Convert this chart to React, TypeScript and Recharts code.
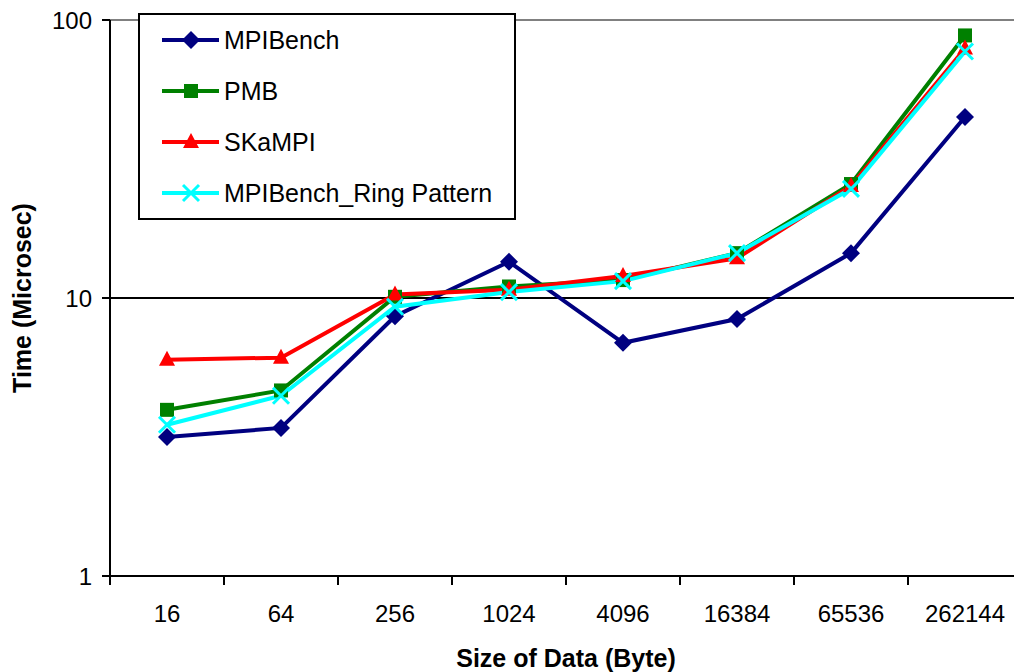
import { LineChart, Line, XAxis, YAxis, CartesianGrid, ReferenceLine, Label } from 'recharts';

const sizes = ['16', '64', '256', '1024', '4096', '16384', '65536', '262144'];
const mpiBench = [3.16, 3.41, 8.6, 13.5, 6.9, 8.4, 14.5, 44.8];
const pmb = [3.96, 4.65, 10.1, 11.0, 11.6, 14.5, 25.7, 88];
const skampi = [6.0, 6.1, 10.3, 10.7, 12.0, 13.9, 25.3, 79];
const ringPattern = [3.5, 4.45, 9.3, 10.5, 11.5, 14.5, 24.7, 77];
const yTicks = [1, 10, 100];

const series = [
    { key: 'mpiBench', name: 'MPIBench', color: '#000080', shape: 'diamond' },
    { key: 'pmb', name: 'PMB', color: '#008000', shape: 'square' },
    { key: 'skampi', name: 'SKaMPI', color: '#FF0000', shape: 'triangle' },
    { key: 'ring', name: 'MPIBench_Ring Pattern', color: '#00FFFF', shape: 'cross' },
];

const data = sizes.map((size, i) => ({
    size,
    mpiBench: mpiBench[i],
    pmb: pmb[i],
    skampi: skampi[i],
    ring: ringPattern[i],
}));

const FONT = 'Arial, "Liberation Sans", sans-serif';
const CHART_W = 1030;
const CHART_H = 672;
const MARGIN = { top: 20, right: 8, left: 0, bottom: 0 };
const Y_AXIS_W = 110;
const PLOT_W = CHART_W - MARGIN.left - MARGIN.right - Y_AXIS_W;
const BAND = PLOT_W / sizes.length;

function Marker({ cx, cy, shape, color }: { cx: number; cy: number; shape: string; color: string }) {
    if (cx == null || cy == null) return null;
    if (shape === 'diamond') {
        return <path d={`M${cx},${cy - 9} L${cx + 9},${cy} L${cx},${cy + 9} L${cx - 9},${cy} Z`} fill={color} />;
    }
    if (shape === 'square') {
        return <rect x={cx - 7} y={cy - 7} width={14} height={14} fill={color} />;
    }
    if (shape === 'triangle') {
        return <path d={`M${cx},${cy - 9} L${cx + 8},${cy + 6} L${cx - 8},${cy + 6} Z`} fill={color} />;
    }
    return (
        <g stroke={color} strokeWidth={3}>
            <line x1={cx - 8} y1={cy - 8} x2={cx + 8} y2={cy + 8} />
            <line x1={cx - 8} y1={cy + 8} x2={cx + 8} y2={cy - 8} />
        </g>
    );
}

function XTick(props: any) {
    const { x, y, payload, index } = props;
    const left = x - BAND / 2;
    return (
        <g>
            <line x1={left} y1={y} x2={left} y2={y + 9} stroke="#000" strokeWidth={2} />
            {index === sizes.length - 1 && (
                <line x1={x + BAND / 2} y1={y} x2={x + BAND / 2} y2={y + 9} stroke="#000" strokeWidth={2} />
            )}
            <text x={x} y={y + 46} textAnchor="middle" fontSize={24} fontFamily={FONT} fill="#000">
                {payload.value}
            </text>
        </g>
    );
}

function LegendBox() {
    return (
        <svg width={378} height={207} style={{ position: 'absolute', left: 138, top: 13 }}>
            <rect x={1} y={1} width={376} height={205} fill="#fff" stroke="#000" strokeWidth={2} />
            {series.map((s, i) => {
                const cy = 27 + i * 51;
                return (
                    <g key={s.key}>
                        <line x1={24} y1={cy} x2={81} y2={cy} stroke={s.color} strokeWidth={4} />
                        <Marker cx={53} cy={cy} shape={s.shape} color={s.color} />
                        <text x={86} y={cy + 9} fontSize={25} fontFamily={FONT} fill="#000">
                            {s.name}
                        </text>
                    </g>
                );
            })}
        </svg>
    );
}

export default function App() {
    return (
        <div style={{ position: 'absolute', left: 0, top: 0, width: 1014, height: 672, overflow: 'hidden', background: '#fff' }}>
            <LineChart width={CHART_W} height={CHART_H} data={data} margin={MARGIN}>
                <CartesianGrid vertical={false} stroke="#000" strokeWidth={2} />
                <ReferenceLine y={100} stroke="#808080" strokeWidth={2} />
                <XAxis
                    dataKey="size"
                    scale="band"
                    height={96}
                    axisLine={{ stroke: '#000', strokeWidth: 2 }}
                    tickLine={false}
                    tickSize={0}
                    tickMargin={0}
                    interval={0}
                    tick={<XTick />}
                >
                    <Label
                        content={(p: any) => {
                            const vb = p.viewBox;
                            return (
                                <text
                                    x={vb.x + vb.width / 2}
                                    y={667}
                                    textAnchor="middle"
                                    fontSize={25}
                                    fontWeight="bold"
                                    fontFamily={FONT}
                                    fill="#000"
                                >
                                    Size of Data (Byte)
                                </text>
                            );
                        }}
                    />
                </XAxis>
                <YAxis
                    type="number"
                    scale="log"
                    domain={[1, 100]}
                    ticks={yTicks}
                    allowDataOverflow
                    width={Y_AXIS_W}
                    axisLine={{ stroke: '#000', strokeWidth: 2 }}
                    tickLine={{ stroke: '#000', strokeWidth: 2 }}
                    tickSize={8}
                    tickMargin={10}
                    tick={{ fontSize: 24, fontFamily: FONT, fill: '#000' }}
                >
                    <Label
                        content={(p: any) => {
                            const vb = p.viewBox;
                            const cx = 22;
                            const cy = vb.y + vb.height / 2;
                            return (
                                <text
                                    x={cx}
                                    y={cy}
                                    transform={`rotate(-90 ${cx} ${cy})`}
                                    textAnchor="middle"
                                    dominantBaseline="central"
                                    fontSize={25}
                                    fontWeight="bold"
                                    fontFamily={FONT}
                                    fill="#000"
                                >
                                    Time (Microsec)
                                </text>
                            );
                        }}
                    />
                </YAxis>
                {series.map((s) => (
                    <Line
                        key={s.key}
                        type="linear"
                        dataKey={s.key}
                        name={s.name}
                        stroke={s.color}
                        strokeWidth={4}
                        dot={(p: any) => <Marker key={`${s.key}-${p.index}`} cx={p.cx} cy={p.cy} shape={s.shape} color={s.color} />}
                        activeDot={false}
                        isAnimationActive={false}
                    />
                ))}
            </LineChart>
            <LegendBox />
        </div>
    );
}
